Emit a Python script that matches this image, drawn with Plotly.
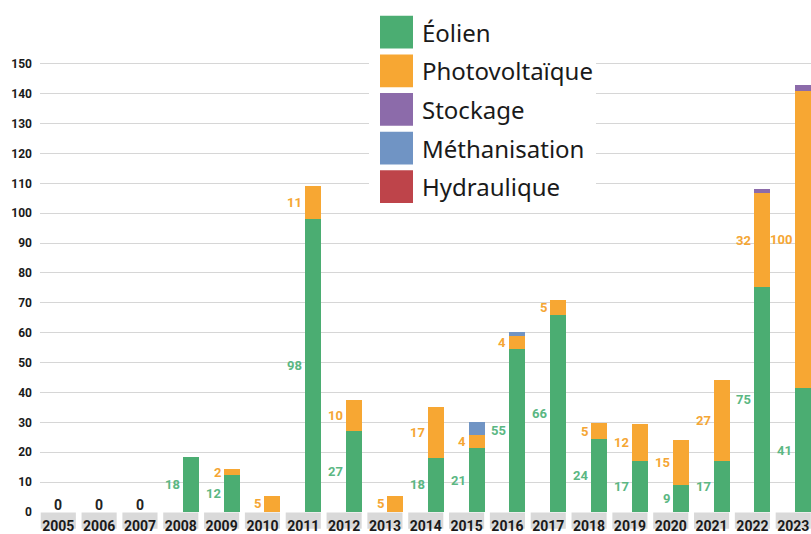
import numpy as np
import plotly.graph_objects as go

# ---------------- data ----------------
years = ["2005", "2006", "2007", "2008", "2009", "2010", "2011", "2012", "2013", "2014",
         "2015", "2016", "2017", "2018", "2019", "2020", "2021", "2022", "2023"]
eolien = [0, 0, 0, 18.4, 12.3, 0, 98.1, 27.2, 0, 18.2, 21.4, 54.7, 66.0, 24.4, 17.2, 8.9, 17.2, 75.2, 41.4]
photovoltaique = [0, 0, 0, 0, 2.0, 5.4, 11.0, 10.2, 5.4, 16.9, 4.4, 4.3, 5.0, 5.3, 12.3, 15.3, 26.9, 31.6, 99.6]
stockage = [0, 0, 0, 0, 0, 0, 0, 0, 0, 0, 0, 0, 0, 0, 0, 0, 0, 1.3, 2.0]
methanisation = [0, 0, 0, 0, 0, 0, 0, 0, 0, 0, 4.3, 1.3, 0, 0, 0, 0, 0, 0, 0]
hydraulique = [0, 0, 0, 0, 0, 0, 0, 0, 0, 0, 0, 0, 0, 0, 0, 0, 0, 0, 0]
y_ticks = [0, 10, 20, 30, 40, 50, 60, 70, 80, 90, 100, 110, 120, 130, 140, 150]

series_names = ["Éolien", "Photovoltaïque", "Stockage", "Méthanisation", "Hydraulique"]
series_values = [eolien, photovoltaique, stockage, methanisation, hydraulique]
labelled = ["Éolien", "Photovoltaïque"]

# ---------------- style ----------------
bar_colors = {"Éolien": "#4BAD72", "Photovoltaïque": "#F7A733", "Stockage": "#8C6BAA",
              "Méthanisation": "#7094C4", "Hydraulique": "#BE444A"}
label_colors = {"Éolien": "#5BB783", "Photovoltaïque": "#F5A634"}
NUM_FONT = "Roboto, Liberation Sans, sans-serif"
TXT_FONT = "Noto Sans, Open Sans, sans-serif"

W, H = 811, 534
ML, MR, MT, MB = 40, 0, 0, 17
PW, PH = W - ML - MR, H - MT - MB
CAT_PX = 40.83
X0 = -(58.3 - ML) / CAT_PX
X1 = X0 + PW / CAT_PX
Y_TOP = PH / 3.017
BAR_OFF, BAR_W = 0.05, 0.39

idx = np.arange(len(years))

fig = go.Figure()
for name, vals in zip(series_names, series_values):
    fig.add_trace(go.Bar(x=idx, y=vals, name=name, marker_color=bar_colors[name],
                         marker_line_width=0, offset=BAR_OFF, width=BAR_W,
                         showlegend=False, hoverinfo="x+y+name"))

annotations = []
shapes = []

# segment labels (left of bars, at segment middle)
base = np.zeros(len(years))
for name, vals in zip(series_names, series_values):
    v = np.array(vals, dtype=float)
    if name in labelled:
        for i in idx:
            if v[i] >= 0.5:
                annotations.append(dict(
                    x=i + BAR_OFF, y=base[i] + v[i] / 2, xref="x", yref="y",
                    text=f"{v[i]:.0f}", showarrow=False, xanchor="right", yanchor="middle",
                    xshift=-1, font=dict(family=NUM_FONT, size=13, color=label_colors[name],
                                         weight="bold")))
    base = base + v

# zero totals
for i in idx:
    if base[i] == 0:
        annotations.append(dict(x=i, y=0, xref="x", yref="y", text="0", showarrow=False,
                                xanchor="center", yanchor="bottom", yshift=-3,
                                font=dict(family=NUM_FONT, size=14, color="#222222",
                                          weight="bold")))

# grey boxes behind year labels
for i in idx:
    shapes.append(dict(type="rect", xref="x", yref="paper", x0=i - 0.43, x1=i + 0.43,
                       y0=-MB / PH, y1=-0.001, fillcolor="#D9D9D9", line_width=0, layer="below"))

# custom legend
def px_x(p):
    return (p - ML) / PW


def px_y(p):
    return 1 - (p - MT) / PH


shapes.append(dict(type="rect", xref="paper", yref="paper", x0=px_x(369), x1=px_x(596),
                   y0=px_y(212), y1=px_y(0), fillcolor="white", line_width=0, layer="above"))
for k, name in enumerate(series_names):
    cy = 32.5 + 39 * k
    shapes.append(dict(type="rect", xref="paper", yref="paper", x0=px_x(380), x1=px_x(413),
                       y0=px_y(cy + 16.5), y1=px_y(cy - 16.5), fillcolor=bar_colors[name],
                       line_width=0, layer="above"))
    annotations.append(dict(x=px_x(420), y=px_y(cy), xref="paper", yref="paper", text=name,
                            showarrow=False, xanchor="left", yanchor="middle",
                            font=dict(family=TXT_FONT, size=24, color="#1A1A1A")))

fig.update_layout(
    width=W, height=H, margin=dict(l=ML, r=MR, t=MT, b=MB, pad=0),
    barmode="stack", plot_bgcolor="white", paper_bgcolor="white",
    showlegend=False, annotations=annotations, shapes=shapes,
    xaxis=dict(range=[X0, X1], tickmode="array", tickvals=idx, ticktext=years,
               showgrid=False, zeroline=False, showline=False, ticks="",
               tickfont=dict(family=NUM_FONT, size=14, color="#1A1A1A", weight="bold"),
               ticklabelstandoff=4),
    yaxis=dict(range=[0, Y_TOP], tickmode="array", tickvals=y_ticks,
               showgrid=True, gridcolor="#D6D6D6", gridwidth=1.3, zeroline=False,
               showline=False, ticks="", ticklabelstandoff=7,
               tickfont=dict(family=NUM_FONT, size=12, color="#1A1A1A", weight="bold")),
)

fig.write_html("out.html", config={"displayModeBar": False},
               post_script="document.body.style.margin='0';")
